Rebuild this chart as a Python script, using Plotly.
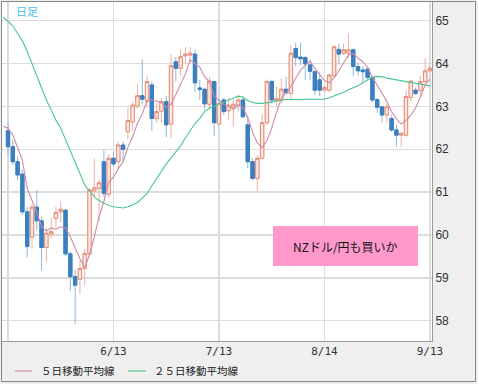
import pandas as pd
import numpy as np
import plotly.graph_objects as go

# ---------------- data ----------------
dates = pd.bdate_range("2012-05-14", "2012-09-13")  # daily bars (89)
tick_dates = ["2012-05-14", "2012-06-13", "2012-07-13", "2012-08-14", "2012-09-13"]
tick_text = ["", "6/13", "7/13", "8/14", "9/13"]

opens = [62.43, 62.06, 61.71, 61.42, 60.54, 59.95, 60.65, 60.33, 59.71, 60.02,
         60.39, 60.54, 60.58, 59.56, 59.03, 58.97, 59.22, 59.56, 61.03, 61.09,
         61.71, 60.95, 61.79, 61.71, 62.10, 62.41, 62.64, 63.01, 63.25, 63.12,
         63.50, 62.72, 62.89, 63.11, 62.59, 64.04, 63.89, 64.18, 64.20, 64.22,
         63.43, 63.40, 63.05, 63.58, 62.59, 63.15, 62.90, 62.98, 63.03, 63.15,
         62.57, 61.71, 61.32, 61.79, 62.62, 63.58, 63.13, 63.15, 63.40, 63.30,
         64.35, 64.15, 64.14, 63.97, 63.81, 63.62, 63.38, 63.38, 63.71, 64.33,
         64.24, 64.24, 64.32, 63.93, 63.85, 63.87, 63.68, 63.16, 62.99, 62.80,
         62.72, 62.45, 62.33, 62.33, 63.21, 63.38, 63.37, 63.58, 63.83]
highs = [62.64, 62.22, 61.83, 61.52, 60.66, 60.72, 61.05, 60.43, 60.18, 60.39,
         60.66, 60.78, 60.60, 59.61, 59.20, 59.40, 59.67, 61.09, 61.79, 61.30,
         61.98, 61.89, 61.94, 62.18, 62.18, 62.98, 63.11, 63.52, 64.10, 63.72,
         63.58, 63.07, 63.19, 63.24, 64.22, 64.16, 64.33, 64.38, 64.39, 64.32,
         63.62, 63.44, 63.69, 63.59, 63.15, 63.19, 63.19, 63.15, 63.27, 63.23,
         62.80, 61.79, 61.87, 62.82, 63.63, 63.62, 63.47, 63.65, 63.69, 64.43,
         64.49, 64.49, 64.18, 64.08, 63.84, 63.80, 63.50, 63.76, 64.43, 64.47,
         64.47, 64.70, 64.35, 64.02, 63.94, 63.93, 63.71, 63.19, 63.01, 63.06,
         62.80, 62.57, 62.41, 63.38, 63.62, 63.44, 63.71, 64.12, 63.93]
lows = [61.87, 61.63, 61.28, 60.47, 59.48, 59.67, 60.12, 59.18, 59.38, 59.92,
        60.19, 60.29, 59.51, 58.70, 57.92, 58.62, 58.83, 59.53, 60.89, 60.31,
        60.89, 60.86, 61.60, 61.52, 61.71, 62.22, 62.43, 62.95, 63.06, 62.98,
        62.43, 62.62, 62.62, 62.28, 62.26, 63.58, 63.71, 64.00, 64.00, 63.34,
        63.15, 62.92, 62.92, 62.31, 62.57, 62.80, 62.68, 62.53, 62.88, 62.72,
        61.56, 61.28, 61.01, 61.77, 62.57, 63.07, 63.01, 63.07, 63.27, 63.15,
        63.94, 63.96, 63.62, 63.62, 63.27, 63.24, 63.34, 63.34, 63.69, 63.97,
        64.20, 64.12, 63.71, 63.73, 63.54, 63.62, 63.09, 62.84, 62.62, 62.62,
        62.41, 62.06, 62.05, 62.29, 63.11, 63.27, 63.23, 63.54, 63.81]
closes = [62.06, 61.71, 61.40, 60.54, 59.73, 60.65, 60.33, 59.71, 60.04, 60.08,
          60.53, 60.60, 59.56, 59.03, 58.83, 59.22, 59.57, 61.05, 61.10, 61.22,
          60.97, 61.79, 61.66, 62.10, 62.00, 62.67, 63.03, 63.25, 63.17, 63.58,
          62.72, 62.88, 63.11, 62.57, 63.95, 63.89, 64.16, 64.22, 64.24, 63.55,
          63.40, 63.06, 63.59, 62.62, 63.07, 62.88, 63.01, 63.05, 63.15, 62.76,
          61.71, 61.32, 61.79, 62.62, 63.58, 63.15, 63.18, 63.40, 63.32, 64.24,
          64.14, 64.11, 63.99, 63.82, 63.38, 63.38, 63.44, 63.73, 64.39, 64.22,
          64.32, 64.32, 63.93, 63.83, 63.81, 63.68, 63.15, 62.98, 62.80, 62.99,
          62.45, 62.33, 62.37, 63.23, 63.59, 63.30, 63.58, 63.83, 63.89]

# 5-day MA: first values (window reaches before the first visible bar)
ma5_lead = [62.54, 62.49, 62.33, 62.06, 61.75]
# 25-day MA (starts one bar before the first visible candle)
ma25 = [65.08, 64.99, 64.88, 64.70, 64.53, 64.28, 64.00, 63.71, 63.44, 63.15,
        62.92, 62.68, 62.49, 62.22, 61.94, 61.67, 61.40, 61.17, 61.03, 60.89,
        60.80, 60.74, 60.69, 60.66, 60.64, 60.63, 60.66, 60.70, 60.76, 60.86,
        60.97, 61.15, 61.32, 61.50, 61.66, 61.80, 61.95, 62.08, 62.27, 62.45,
        62.60, 62.72, 62.88, 62.96, 63.01, 63.06, 63.10, 63.15, 63.19, 63.24,
        63.22, 63.14, 63.09, 63.07, 63.07, 63.08, 63.10, 63.13, 63.15, 63.16,
        63.16, 63.16, 63.16, 63.16, 63.16, 63.16, 63.16, 63.17, 63.20, 63.24,
        63.28, 63.33, 63.39, 63.44, 63.48, 63.55, 63.62, 63.68, 63.70, 63.69,
        63.66, 63.64, 63.62, 63.60, 63.58, 63.56, 63.53, 63.51, 63.49, 63.48]

label_title = "日足"
label_note = "NZドル/円も買いか"
legend_names = ["５日移動平均線", "２５日移動平均線"]

# ---------------- derived ----------------
xs = list(range(len(dates)))
ma_x = list(range(-1, len(dates)))
ma5_rest = pd.Series(closes).rolling(5).mean().tolist()[4:]
ma5 = ma5_lead + [round(v, 3) for v in ma5_rest]
body_hi = [max(o, c) for o, c in zip(opens, closes)]
body_lo = [min(o, c) for o, c in zip(opens, closes)]
tickvals = [dates.get_loc(pd.Timestamp(d)) for d in tick_dates]

# ---------------- layout helpers (pixel -> paper) ----------------
L, R, T, B = 2, 46, 2, 43
W = 478 - L - R
H = 384 - T - B
def px(x):
    return (x - L) / W
def py(y):
    return 1 - (y - T) / H

UP_LINE, UP_FILL, UP_WICK = "#e68d78", "#fdeae4", "#efb0a1"
DN_LINE, DN_WICK = "#3b7fc0", "#8bb6dc"
MA5_C, MA25_C = "#cf8aa8", "#4cc68d"

fig = go.Figure()
# wicks (light)
fig.add_trace(go.Candlestick(
    x=xs, open=opens, high=highs, low=lows, close=closes,
    increasing=dict(line=dict(color=UP_WICK, width=1), fillcolor=UP_FILL),
    decreasing=dict(line=dict(color=DN_WICK, width=1), fillcolor=DN_WICK),
    whiskerwidth=0, showlegend=False, hoverinfo="skip"))
# bodies (strong)
fig.add_trace(go.Candlestick(
    x=xs, open=opens, high=body_hi, low=body_lo, close=closes,
    increasing=dict(line=dict(color=UP_LINE, width=1), fillcolor=UP_FILL),
    decreasing=dict(line=dict(color=DN_LINE, width=1), fillcolor=DN_LINE),
    whiskerwidth=0, showlegend=False, hoverinfo="skip"))
fig.add_trace(go.Scatter(x=ma_x, y=ma25, mode="lines",
                         line=dict(color=MA25_C, width=1.1), showlegend=False, hoverinfo="skip"))
fig.add_trace(go.Scatter(x=ma_x, y=ma5, mode="lines",
                         line=dict(color=MA5_C, width=1.1), showlegend=False, hoverinfo="skip"))

grid_c = "#dcdcdc"
fig.update_layout(
    width=478, height=384,
    margin=dict(l=L, r=R, t=T, b=B, pad=0),
    paper_bgcolor="#efefef", plot_bgcolor="#ffffff",
    boxgap=0.3, boxgroupgap=0,
    hovermode=False,
    xaxis=dict(
        range=[(2 - 8) / 4.795, (432 - 8) / 4.795],
        tickvals=tickvals, ticktext=tick_text,
        showgrid=True, gridcolor=grid_c, gridwidth=1.5,
        zeroline=False, showline=True, mirror=True, linecolor="#999999", linewidth=1,
        ticks="", ticklen=0,
        tickfont=dict(family="DejaVu Sans Mono", size=11, color="#333333"),
        rangeslider=dict(visible=False), fixedrange=True,
    ),
    yaxis=dict(
        range=[57.527, 65.436], side="right",
        tickvals=[58, 59, 60, 61, 62, 63, 64, 65],
        showgrid=True, gridcolor=grid_c, gridwidth=1.5,
        zeroline=False, showline=True, mirror=True, linecolor="#999999", linewidth=1,
        ticks="", ticklen=0,
        tickfont=dict(family="Liberation Sans", size=12, color="#333333"),
        fixedrange=True,
    ),
    shapes=[
        dict(type="rect", xref="paper", yref="paper",
             x0=px(273), x1=px(418), y0=py(266), y1=py(226),
             fillcolor="#ff99cc", line=dict(width=0)),
        dict(type="line", xref="paper", yref="paper",
             x0=px(15), x1=px(32), y0=py(371), y1=py(371),
             line=dict(color=MA5_C, width=1.2)),
        dict(type="line", xref="paper", yref="paper",
             x0=px(128), x1=px(146), y0=py(371), y1=py(371),
             line=dict(color=MA25_C, width=1.2)),
        dict(type="rect", xref="paper", yref="paper",
             x0=px(1.5), x1=px(475.5), y0=py(381.5), y1=py(1.5),
             line=dict(color="#888888", width=1), fillcolor="rgba(0,0,0,0)"),
    ],
    annotations=[
        dict(text=label_title, xref="paper", yref="paper", x=px(14), y=py(11),
             xanchor="left", yanchor="middle", showarrow=False,
             font=dict(family="Noto Sans CJK JP", size=11, color="#3fc1f0")),
        dict(text=label_note, xref="paper", yref="paper", x=px(345.5), y=py(246.5),
             xanchor="center", yanchor="middle", showarrow=False,
             font=dict(family="Noto Sans CJK JP", size=12, color="#111111")),
        dict(text=legend_names[0], xref="paper", yref="paper", x=px(39), y=py(371),
             xanchor="left", yanchor="middle", showarrow=False,
             font=dict(family="Noto Sans CJK JP", size=10.5, color="#222222")),
        dict(text=legend_names[1], xref="paper", yref="paper", x=px(152), y=py(371),
             xanchor="left", yanchor="middle", showarrow=False,
             font=dict(family="Noto Sans CJK JP", size=10.5, color="#222222")),
    ],
)

fig.write_html("out.html",
               config={"displayModeBar": False, "staticPlot": True},
               post_script="document.body.style.margin='0px';document.body.style.overflow='hidden';")
